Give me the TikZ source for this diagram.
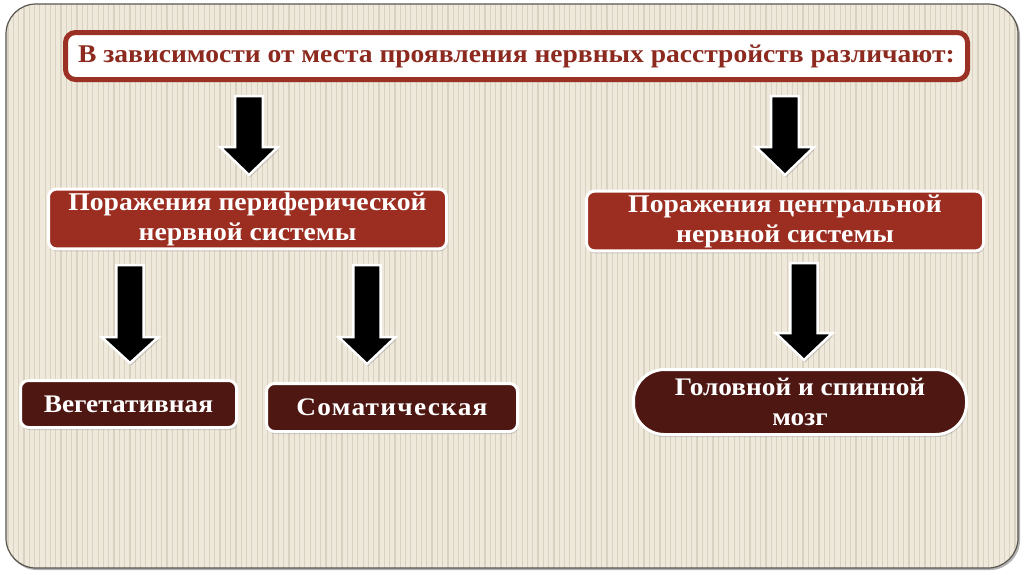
\documentclass[tikz,border=0pt]{standalone}
\usepackage{fontspec}
\setmainfont[FakeStretch=1.08]{Liberation Serif}
\usetikzlibrary{shadows}
\definecolor{bgA}{HTML}{EFE9DB}
\definecolor{bgB}{HTML}{DAD2C1}
\definecolor{frameC}{HTML}{5A5650}
\definecolor{titleC}{HTML}{9A3124}
\definecolor{titleT}{HTML}{8C2A1F}
\definecolor{redbox}{HTML}{9B2D21}
\definecolor{darkbox}{HTML}{4E1712}
\tikzset{
  shad/.style={drop shadow={opacity=0.35, shadow xshift=1pt, shadow yshift=-2.5pt}},
  titlebox/.style={draw=titleC, fill=white, line width=5pt, rounded corners=10pt, text=titleT,
     font=\bfseries\fontsize{25.5}{30}\selectfont, shad},
  redbox/.style={draw=white, fill=redbox, line width=3pt, rounded corners=8pt, text=white,
     align=center, font=\bfseries\fontsize{25.6}{30}\selectfont, shad},
  darkbox/.style={draw=white, fill=darkbox, line width=3pt, rounded corners=8pt, text=white,
     align=center, font=\bfseries\fontsize{25.3}{30}\selectfont, shad},
  blockarrow/.style={fill=black, draw=white, line width=2.5pt, line join=miter, shad},
}
\newcommand\blkarrow[5]{%
  \draw[blockarrow] ({#1-#5*0.48},#2) -- ({#1+#5*0.48},#2) -- ({#1+#5*0.48},#3) -- ({#1+#5},#3)
     -- (#1,#4) -- ({#1-#5},#3) -- ({#1-#5*0.48},#3) -- cycle;}
\begin{document}
\begin{tikzpicture}[x=1pt,y=-1pt]
\useasboundingbox (0,0) rectangle (1024,574);
\fill[white] (0,0) rectangle (1024,574);
% frame
\fill[black!30, rounded corners=30pt] (7,6) rectangle (1020,570);
\fill[bgA, rounded corners=30pt] (6,4) rectangle (1018,568);
\begin{scope}
  \clip[rounded corners=30pt] (6,4) rectangle (1018,568);
  \foreach \i in {0,...,192} {\draw[bgB, line width=1.2pt] ({8+\i*5.3},4) -- ({8+\i*5.3},568);}
\end{scope}
\draw[frameC, line width=1.2pt, rounded corners=30pt] (6,4) rectangle (1018,568);

% title
\node[titlebox, minimum width=902pt, minimum height=47pt] (title) at (516.5,56)
  {В зависимости от места проявления нервных расстройств различают:};

% arrows
\blkarrow{249}{96}{147}{175}{29}
\blkarrow{785}{96}{147}{175}{29}
\blkarrow{130}{265}{337}{363}{28.5}
\blkarrow{367}{265}{337}{364}{28.5}
\blkarrow{804}{263}{333}{360}{28.5}

% second level
\node[redbox, minimum width=398pt, minimum height=59pt] (periph) at (247.5,219)
  {Поражения периферической\\нервной системы};
\node[redbox, minimum width=397pt, minimum height=59pt] (central) at (785,221)
  {Поражения центральной\\нервной системы};

% third level
\node[darkbox, minimum width=216pt, minimum height=47pt] (veg) at (128.5,404) {Вегетативная};
\node[darkbox, minimum width=251pt, minimum height=48pt] (som) at (392,407.5)
  {\addfontfeature{LetterSpace=5}Соматическая};
\node[darkbox, rounded corners=31pt, minimum width=333pt, minimum height=65pt] (brain) at (800,402)
  {Головной и спинной\\мозг};
\end{tikzpicture}
\end{document}
